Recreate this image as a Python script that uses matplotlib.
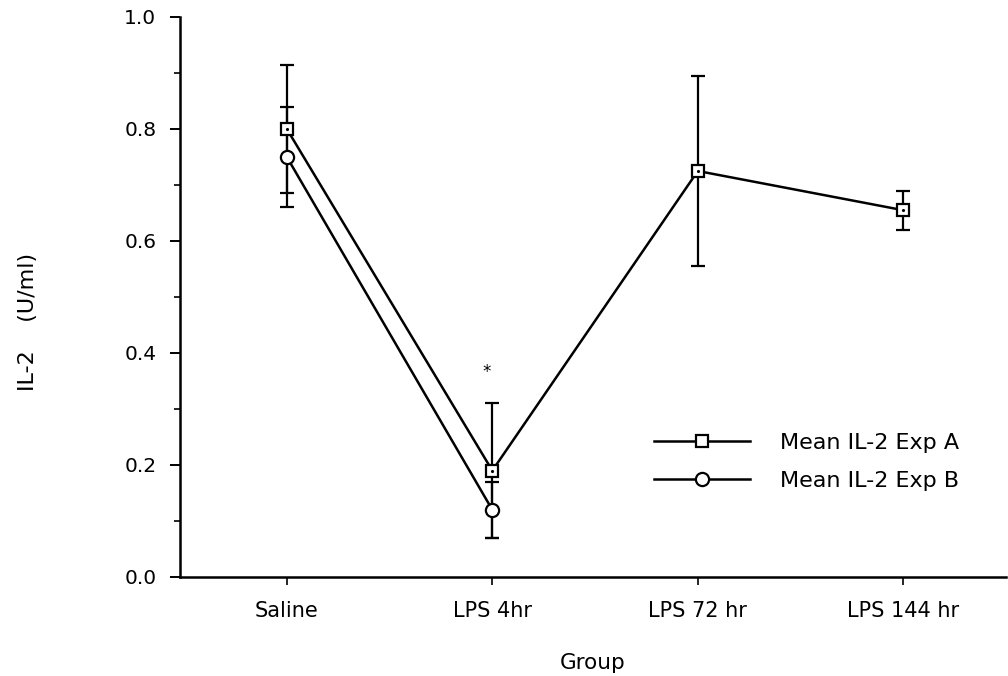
import matplotlib
matplotlib.use("Agg")
import matplotlib.pyplot as plt
from matplotlib.lines import Line2D
from matplotlib.ticker import MultipleLocator, FormatStrFormatter

# Data
groups = ["Saline", "LPS 4hr", "LPS 72 hr", "LPS 144 hr"]
exp_a_mean = [0.80, 0.19, 0.725, 0.655]
exp_a_err = [0.115, 0.12, 0.17, 0.035]
exp_b_mean = [0.75, 0.12]
exp_b_err = [0.09, 0.05]
star_pos = (0.97, 0.366)

plt.rcParams['font.family'] = ['DejaVu Sans']

fig = plt.figure(figsize=(10.08, 6.76), dpi=100)
ax = fig.add_axes([180 / 1008, 99 / 676, 826 / 1008, 560 / 676])

xa = list(range(len(exp_a_mean)))
xb = list(range(len(exp_b_mean)))

style_a = dict(color="black", lw=1.8, marker="s", ms=8.5, mfc="white",
               mec="black", mew=1.6)
style_b = dict(color="black", lw=1.8, marker="o", ms=9.5, mfc="white",
               mec="black", mew=1.6)

ax.errorbar(xa, exp_a_mean, yerr=exp_a_err, capsize=5, capthick=1.6,
            elinewidth=1.6, zorder=3, **style_a)
ax.plot(xa, exp_a_mean, ls="none", marker=".", ms=2.5, color="black", zorder=4)
ax.errorbar(xb, exp_b_mean, yerr=exp_b_err, capsize=5, capthick=1.6,
            elinewidth=1.6, zorder=3, **style_b)

ax.text(star_pos[0], star_pos[1], "*", ha="center", va="center", fontsize=12)

ax.set_xlim(-0.52, 3.5)
ax.set_ylim(0.0, 1.0)
ax.set_xticks(xa)
ax.set_xticklabels(groups)
ax.yaxis.set_major_locator(MultipleLocator(0.2))
ax.yaxis.set_minor_locator(MultipleLocator(0.1))
ax.yaxis.set_major_formatter(FormatStrFormatter("%.1f"))

for s in ("top", "right"):
    ax.spines[s].set_visible(False)
for s in ("left", "bottom"):
    ax.spines[s].set_linewidth(1.8)

ax.tick_params(axis="y", which="major", direction="out", length=7, width=1.4,
               labelsize=14.5, pad=10)
ax.tick_params(axis="y", which="minor", direction="out", length=4, width=1.2)
ax.tick_params(axis="x", which="major", direction="out", length=6, width=1.2,
               labelsize=15, pad=11)

ax.set_xlabel("Group", fontsize=15.5, labelpad=23)
fig.text(28 / 1008, (676 - 322) / 676, "IL-2    (U/ml)", rotation=90,
         ha="center", va="center", fontsize=16)

handles = [Line2D([], [], **style_a), Line2D([], [], **style_b)]
labels = ["Mean IL-2 Exp A", "Mean IL-2 Exp B"]
ax.legend(handles, labels, loc="center left", bbox_to_anchor=(0.55, 0.206),
          frameon=False, fontsize=16, handlelength=4.3,
          handletextpad=1.35, labelspacing=0.8)

fig.savefig("out.png", dpi=100)
